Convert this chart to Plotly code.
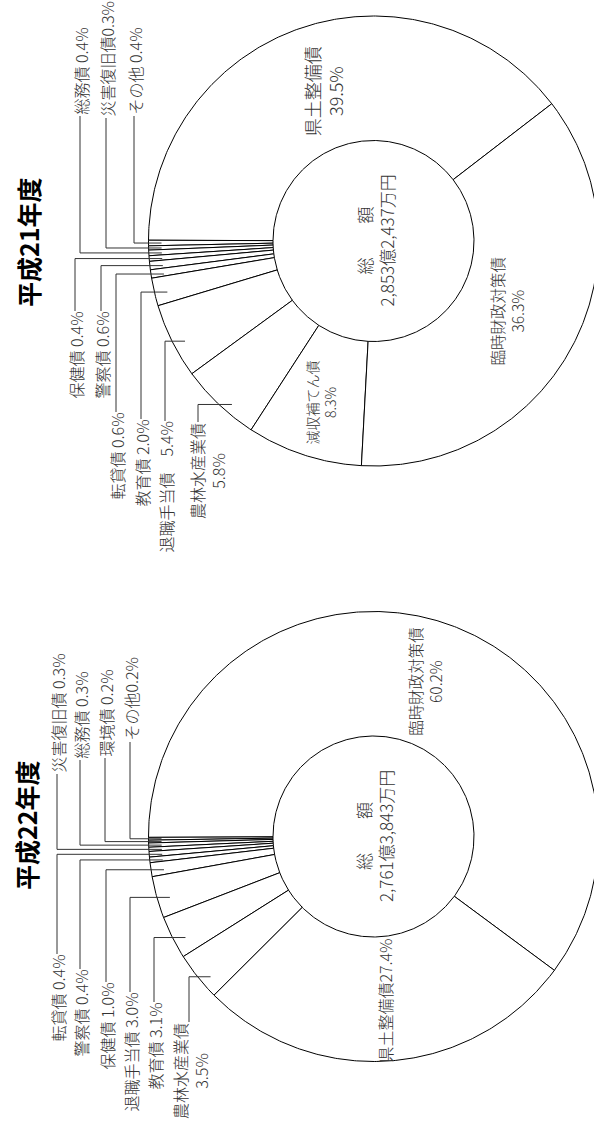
import numpy as np
import plotly.graph_objects as go

# ---------------- data ----------------
titles = ["平成21年度", "平成22年度"]

h21_labels = ["県土整備債", "その他", "災害復旧債", "総務債", "保健債", "警察債",
              "転貸債", "教育債", "退職手当債", "農林水産業債", "減収補てん債", "臨時財政対策債"]
h21_values = [39.5, 0.4, 0.3, 0.4, 0.4, 0.6, 0.6, 2.0, 5.4, 5.8, 8.3, 36.3]
h21_total = "2,853億2,437万円"

h22_labels = ["臨時財政対策債", "その他", "環境債", "総務債", "災害復旧債", "転貸債",
              "警察債", "保健債", "退職手当債", "教育債", "農林水産業債", "県土整備債"]
h22_values = [60.2, 0.2, 0.2, 0.3, 0.3, 0.4, 0.4, 1.0, 3.0, 3.1, 3.5, 27.4]
h22_total = "2,761億3,843万円"

# ---------------- layout / style ----------------
W, H = 594, 1133
R_OUT, R_IN = 225, 100.5
FONT = "Noto Sans CJK JP"
TXT = "#333333"

# label placement: (kind, column x / radius, text end y, separator, size)
h21_spec = [
    ("in", 158, None, "<br>", 18),
    ("up", 134, 116, " ", 16),
    ("up", 106, 118, "", 16),
    ("up", 80, 116, " ", 16),
    ("down", 75, 311, " ", 16),
    ("down", 101, 311, " ", 16),
    ("down", 116, 412, " ", 16),
    ("down", 141, 419, " ", 16),
    ("down", 165, 421, "　", 16),
    ("down2", 198, 422, "<br>", 16),
    ("in", 170, None, "<br>", 14),
    ("in", 151, None, "<br>", 15.5),
]
h22_spec = [
    ("in", 163, None, "<br>", 15.5),
    ("up", 130, 742, "", 16),
    ("up", 105, 758, " ", 16),
    ("up", 80, 760, " ", 16),
    ("up", 57, 774, " ", 16),
    ("down", 57, 954, " ", 16),
    ("down", 80, 969, " ", 16),
    ("down", 106, 982, " ", 16),
    ("down", 130, 992, " ", 16),
    ("down", 154, 1002, " ", 16),
    ("down2", 189, 1022, "<br>", 16),
    ("in", 165, None, "", 16),
]

donuts = [
    dict(title=titles[0], labels=h21_labels, values=h21_values, total=h21_total,
         cx=373.5, cy=241.0, start=37.6, title_xy=(28, 242), spec=h21_spec, two_dx=9),
    dict(title=titles[1], labels=h22_labels, values=h22_values, total=h22_total,
         cx=373.5, cy=836.5, start=-36.5, title_xy=(26, 825), spec=h22_spec, two_dx=1),
]

fig = go.Figure()
annotations = []


def arc(cx, cy, r, a0, a1):
    n = max(4, int(abs(a1 - a0) * 2) + 2)
    t = np.radians(np.linspace(a0, a1, n))
    return cx + r * np.cos(t), cy - r * np.sin(t)


for d in donuts:
    cx, cy = d["cx"], d["cy"]
    vals = np.array(d["values"], dtype=float)
    spans = vals / vals.sum() * 360.0
    edges = d["start"] + np.concatenate([[0], np.cumsum(spans)])
    lead_x, lead_y = [], []
    for i, (lab, v) in enumerate(zip(d["labels"], d["values"])):
        a0, a1 = edges[i], edges[i + 1]
        ox, oy = arc(cx, cy, R_OUT, a0, a1)
        ix, iy = arc(cx, cy, R_IN, a1, a0)
        px = np.concatenate([ox, ix, ox[:1]])
        py = np.concatenate([oy, iy, oy[:1]])
        fig.add_trace(go.Scatter(x=px, y=py, mode="lines", fill="toself",
                                 fillcolor="white", line=dict(color="black", width=1),
                                 hoverinfo="skip", showlegend=False))
        am = np.radians((a0 + a1) / 2)
        kind, p, ty, sep, size = d["spec"][i]
        text = f"{lab}{sep}{v:.1f}%"
        if kind == "in":
            annotations.append(dict(x=cx + p * np.cos(am), y=cy - p * np.sin(am),
                                    text=text, textangle=-90, showarrow=False,
                                    xanchor="center", yanchor="middle",
                                    font=dict(family=FONT, size=size, color=TXT, weight=300)))
        else:
            yl = cy - R_OUT * np.sin(am)
            xc = cx - np.sqrt(R_OUT ** 2 - (yl - cy) ** 2)
            lead_x += [p, p, xc + 13, None]
            lead_y += [ty, yl, yl, None]
            tx = p + (d["two_dx"] if kind == "down2" else 0)
            annotations.append(dict(x=tx, y=ty, text=text, textangle=-90, showarrow=False,
                                    xanchor="center",
                                    yanchor="bottom" if kind == "up" else "top",
                                    borderpad=0,
                                    font=dict(family=FONT, size=size, color=TXT, weight=300)))
    fig.add_trace(go.Scatter(x=lead_x, y=lead_y, mode="lines",
                             line=dict(color="#333333", width=1),
                             hoverinfo="skip", showlegend=False))
    annotations.append(dict(x=cx + 1, y=cy, text="総　　額<br>" + d["total"], textangle=-90,
                            showarrow=False, xanchor="center", yanchor="middle",
                            font=dict(family=FONT, size=17, color=TXT, weight=300)))
    tx, ty = d["title_xy"]
    annotations.append(dict(x=tx, y=ty, text=d["title"], textangle=-90, showarrow=False,
                            xanchor="center", yanchor="middle",
                            font=dict(family=FONT, size=25, color="black", weight="bold")))

fig.update_layout(
    width=W, height=H, margin=dict(l=0, r=0, t=0, b=0),
    paper_bgcolor="white", plot_bgcolor="white",
    xaxis=dict(range=[0, W], visible=False, fixedrange=True),
    yaxis=dict(range=[H, 0], visible=False, fixedrange=True),
    annotations=annotations, showlegend=False,
)
fig.write_html("out.html")
